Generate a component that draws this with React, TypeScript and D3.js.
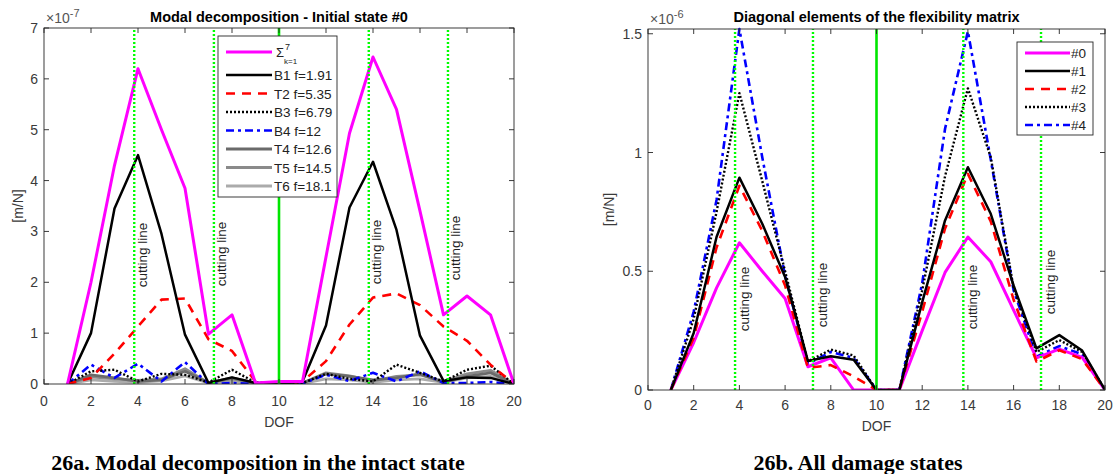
import React from 'react';
import * as d3 from 'd3';

// ---------- data ----------
const DOF = [1, 2, 3, 4, 5, 6, 7, 8, 9, 10, 11, 12, 13, 14, 15, 16, 17, 18, 19, 20];
const X_TICKS = [0, 2, 4, 6, 8, 10, 12, 14, 16, 18, 20];
const LEFT_Y_TICKS = [0, 1, 2, 3, 4, 5, 6, 7];
const RIGHT_Y_TICKS = [0, 0.5, 1, 1.5];
const CUT_LEFT = [3.84, 7.23, 13.82, 17.19];
const CUT_RIGHT = [3.81, 7.22, 13.8, 17.2];
const MID_DOF = 10;

// left panel, units of 1e-7 m/N
const SIGMA = [0, 2.0, 4.3, 6.2, 5.0, 3.85, 0.98, 1.36, 0.02, 0.05, 0.05, 2.5, 4.93, 6.43, 5.4, 3.4, 1.36, 1.73, 1.36, 0];
const B1 = [0, 1.0, 3.45, 4.5, 2.95, 0.97, 0.02, 0.13, 0.02, 0, 0.05, 1.15, 3.47, 4.37, 3.03, 0.95, 0.06, 0.13, 0.12, 0];
const T2 = [0, 0.12, 0.6, 1.13, 1.66, 1.68, 0.88, 0.65, 0.05, 0, 0.05, 0.45, 1.17, 1.7, 1.78, 1.55, 1.13, 0.85, 0.38, 0];
const B3 = [0, 0.25, 0.28, 0.05, 0.2, 0.18, 0.03, 0.28, 0.03, 0, 0.02, 0.2, 0.1, 0.05, 0.38, 0.22, 0.05, 0.28, 0.36, 0];
const B4 = [0, 0.38, 0.12, 0.4, 0.05, 0.43, 0.0, 0.02, 0, 0, 0.01, 0.18, 0.06, 0.22, 0.05, 0.25, 0.02, 0.02, 0.04, 0];
const T4 = [0, 0.18, 0.12, 0.05, 0.08, 0.25, 0.02, 0.12, 0.02, 0, 0.02, 0.2, 0.15, 0.08, 0.12, 0.2, 0.03, 0.15, 0.22, 0];
const T5 = [0, 0.14, 0.1, 0.07, 0.1, 0.3, 0.02, 0.1, 0.02, 0, 0.02, 0.22, 0.16, 0.06, 0.15, 0.18, 0.05, 0.2, 0.27, 0];
const T6 = [0, 0.08, 0.05, 0.03, 0.06, 0.16, 0.02, 0.05, 0.01, 0, 0.01, 0.1, 0.08, 0.03, 0.08, 0.1, 0.03, 0.12, 0.15, 0];
const LEFT_NAMES = ['B1 f=1.91', 'T2 f=5.35', 'B3 f=6.79', 'B4 f=12', 'T4 f=12.6', 'T5 f=14.5', 'T6 f=18.1'];

// right panel, units of 1e-6 m/N
const S0 = [0, 0.2, 0.43, 0.62, 0.5, 0.385, 0.098, 0.135, 0, 0, 0, 0.25, 0.495, 0.644, 0.54, 0.336, 0.135, 0.172, 0.137, 0];
const S1 = [0, 0.24, 0.644, 0.894, 0.7, 0.476, 0.122, 0.142, 0.127, 0, 0, 0.37, 0.714, 0.938, 0.742, 0.44, 0.175, 0.231, 0.166, 0];
const S2 = [0, 0.22, 0.6, 0.86, 0.67, 0.44, 0.093, 0.105, 0.057, 0, 0, 0.33, 0.68, 0.91, 0.71, 0.38, 0.12, 0.167, 0.13, 0];
const S3 = [0, 0.3, 0.75, 1.25, 0.88, 0.5, 0.12, 0.17, 0.145, 0, 0, 0.42, 0.9, 1.27, 0.98, 0.43, 0.16, 0.21, 0.16, 0];
const S4 = [0, 0.33, 0.8, 1.52, 0.98, 0.48, 0.11, 0.16, 0.135, 0, 0, 0.45, 1.1, 1.51, 0.97, 0.42, 0.14, 0.185, 0.15, 0];
const RIGHT_NAMES = ['#0', '#1', '#2', '#3', '#4'];

// ---------- styles ----------
const FONT = "'Liberation Sans', Arial, Helvetica, sans-serif";
const AX = '#262626';
const TXT = '#3a3a3a';

type Style = { color: string; width: number; dash?: string };
const ST_MAG: Style = { color: '#ff00ff', width: 3 };
const ST_BLK: Style = { color: '#000000', width: 2.5 };
const ST_RED: Style = { color: '#ff0000', width: 2.6, dash: '9,7' };
const ST_DOT: Style = { color: '#000000', width: 2.4, dash: '2,2' };
const ST_BLU: Style = { color: '#0000ff', width: 2.6, dash: '8,4,3,4' };
const ST_G1: Style = { color: '#6a6a6a', width: 2.8 };
const ST_G2: Style = { color: '#8a8a8a', width: 2.8 };
const ST_G3: Style = { color: '#ababab', width: 2.8 };

type Box = { x0: number; x1: number; y0: number; y1: number };

function Panel(props: {
  box: Box; ymax: number; yTicks: number[]; yFmt: (v: number) => string;
  series: { values: number[]; st: Style }[]; cuts: number[]; cutDx: number; cutY: number[];
  title: string; exponent: string; ylabelX: number; xlabelY: number; xtickY: number;
}) {
  const { box, ymax, yTicks, yFmt, series, cuts, cutDx, cutY, title, exponent, ylabelX, xlabelY, xtickY } = props;
  const x = d3.scaleLinear().domain([0, 20]).range([box.x0, box.x1]);
  const y = d3.scaleLinear().domain([0, ymax]).range([box.y0, box.y1]);
  const line = d3.line<number>().x((_, i) => x(DOF[i])).y((v) => y(v));
  const clipId = 'clip' + box.x0;
  const tl = 5;
  const cx = (box.x0 + box.x1) / 2;
  return (
    <g>
      <defs>
        <clipPath id={clipId}>
          <rect x={box.x0} y={box.y1 - 2} width={box.x1 - box.x0} height={box.y0 - box.y1 + 2} />
        </clipPath>
      </defs>
      <g clipPath={`url(#${clipId})`}>
        {series.map((s, i) => (
          <path key={i} d={line(s.values) || ''} fill="none" stroke={s.st.color} strokeWidth={s.st.width}
            strokeDasharray={s.st.dash} strokeLinejoin="round" />
        ))}
        {cuts.map((c, i) => (
          <line key={i} x1={x(c)} x2={x(c)} y1={box.y0} y2={box.y1} stroke="#00ff00" strokeWidth={2.4} strokeDasharray="2,2" />
        ))}
        <line x1={x(MID_DOF)} x2={x(MID_DOF)} y1={box.y0} y2={box.y1} stroke="#00e600" strokeWidth={2.6} />
      </g>
      {cuts.map((c, i) => (
        <text key={i} transform={`translate(${x(c) + cutDx},${cutY[i]}) rotate(-90)`} textAnchor="middle"
          fontFamily={FONT} fontSize={13.5} fill="#222">cutting line</text>
      ))}
      {/* axes box */}
      <rect x={box.x0} y={box.y1} width={box.x1 - box.x0} height={box.y0 - box.y1} fill="none" stroke={AX} strokeWidth={0.9} />
      {X_TICKS.map((t) => (
        <g key={'x' + t}>
          <line x1={x(t)} x2={x(t)} y1={box.y0} y2={box.y0 - tl} stroke={AX} strokeWidth={0.9} />
          <line x1={x(t)} x2={x(t)} y1={box.y1} y2={box.y1 + tl} stroke={AX} strokeWidth={0.9} />
          <text x={x(t)} y={xtickY} textAnchor="middle" fontFamily={FONT} fontSize={14} fill={TXT}>{t}</text>
        </g>
      ))}
      {yTicks.map((t) => (
        <g key={'y' + t}>
          <line x1={box.x0} x2={box.x0 + tl} y1={y(t)} y2={y(t)} stroke={AX} strokeWidth={0.9} />
          <line x1={box.x1} x2={box.x1 - tl} y1={y(t)} y2={y(t)} stroke={AX} strokeWidth={0.9} />
          <text x={box.x0 - 6} y={y(t) + 5} textAnchor="end" fontFamily={FONT} fontSize={14} fill={TXT}>{yFmt(t)}</text>
        </g>
      ))}
      <text x={box.x0 + 2} y={box.y1 - 5} fontFamily={FONT} fontSize={14} fill="#555">
        ×10<tspan dy={-6} fontSize={11}>{exponent}</tspan>
      </text>
      <text x={cx} y={22} textAnchor="middle" fontFamily={FONT} fontSize={14.5} fontWeight="bold" fill="#000">{title}</text>
      <text x={cx} y={xlabelY} textAnchor="middle" fontFamily={FONT} fontSize={14} fill={TXT}>DOF</text>
      <text transform={`translate(${ylabelX},${(box.y0 + box.y1) / 2}) rotate(-90)`} textAnchor="middle"
        fontFamily={FONT} fontSize={14} fill={TXT}>[m/N]</text>
    </g>
  );
}

function LegendLine({ x1, x2, y, st }: { x1: number; x2: number; y: number; st: Style }) {
  return <line x1={x1} x2={x2} y1={y} y2={y} stroke={st.color} strokeWidth={st.width} strokeDasharray={st.dash} />;
}

export default function App() {
  const leftBox: Box = { x0: 44, x1: 514, y0: 384, y1: 28 };
  const rightBox: Box = { x0: 648, x1: 1105, y0: 390, y1: 29 };
  const leftSeries = [
    { values: T6, st: ST_G3 }, { values: T5, st: ST_G2 }, { values: T4, st: ST_G1 },
    { values: B4, st: ST_BLU }, { values: B3, st: ST_DOT }, { values: T2, st: ST_RED },
    { values: B1, st: ST_BLK }, { values: SIGMA, st: ST_MAG },
  ];
  const rightSeries = [
    { values: S4, st: ST_BLU }, { values: S3, st: ST_DOT }, { values: S0, st: ST_MAG },
    { values: S2, st: ST_RED }, { values: S1, st: ST_BLK },
  ];
  const leftLegendStyles = [ST_BLK, ST_RED, ST_DOT, ST_BLU, ST_G1, ST_G2, ST_G3];
  const leftRows = [75, 93.5, 112, 130.5, 149, 167.5, 186];
  const rightStyles = [ST_MAG, ST_BLK, ST_RED, ST_DOT, ST_BLU];
  const rightRows = [53, 71, 89, 107, 125];
  return (
    <svg width={1115} height={474} style={{ position: 'absolute', left: 0, top: 0, background: '#fff' }}>
      <rect x={0} y={0} width={1115} height={474} fill="#fff" />
      <Panel box={leftBox} ymax={7} yTicks={LEFT_Y_TICKS} yFmt={(v) => String(v)} series={leftSeries}
        cuts={CUT_LEFT} cutDx={12.5} cutY={[255, 254, 252, 248]} title="Modal decomposition - Initial state #0"
        exponent="-7" ylabelX={23} xlabelY={427} xtickY={406} />
      <Panel box={rightBox} ymax={1.52} yTicks={RIGHT_Y_TICKS} yFmt={(v) => String(v)} series={rightSeries}
        cuts={CUT_RIGHT} cutDx={14} cutY={[299, 295, 297, 282]} title="Diagonal elements of the flexibility matrix"
        exponent="-6" ylabelX={614} xlabelY={431} xtickY={410} />

      {/* left legend */}
      <rect x={218} y={36} width={119} height={161} fill="#fff" stroke={AX} strokeWidth={0.9} />
      <LegendLine x1={226} x2={272} y={52} st={ST_MAG} />
      <text x={276} y={57} fontFamily={FONT} fontSize={13} fill="#222">Σ</text>
      <text x={285} y={50} fontFamily={FONT} fontSize={9} fill="#222">7</text>
      <text x={284} y={64} fontFamily={FONT} fontSize={8} fill="#222">k=1</text>
      {LEFT_NAMES.map((n, i) => (
        <g key={n}>
          <LegendLine x1={226} x2={272} y={leftRows[i]} st={leftLegendStyles[i]} />
          <text x={274} y={leftRows[i] + 5} fontFamily={FONT} fontSize={13.5} fill="#222">{n}</text>
        </g>
      ))}

      {/* right legend */}
      <rect x={1017} y={42} width={76} height={93} fill="#fff" stroke={AX} strokeWidth={0.9} />
      {RIGHT_NAMES.map((n, i) => (
        <g key={n}>
          <LegendLine x1={1025} x2={1070} y={rightRows[i]} st={rightStyles[i]} />
          <text x={1071} y={rightRows[i] + 5} fontFamily={FONT} fontSize={13.5} fill="#222">{n}</text>
        </g>
      ))}

      <text x={258} y={470} textAnchor="middle" fontFamily="'Liberation Serif', 'Times New Roman', serif"
        fontSize={22} fontWeight="bold" fill="#000">26a. Modal decomposition in the intact state</text>
      <text x={858} y={470} textAnchor="middle" fontFamily="'Liberation Serif', 'Times New Roman', serif"
        fontSize={22} fontWeight="bold" fill="#000">26b. All damage states</text>
    </svg>
  );
}
